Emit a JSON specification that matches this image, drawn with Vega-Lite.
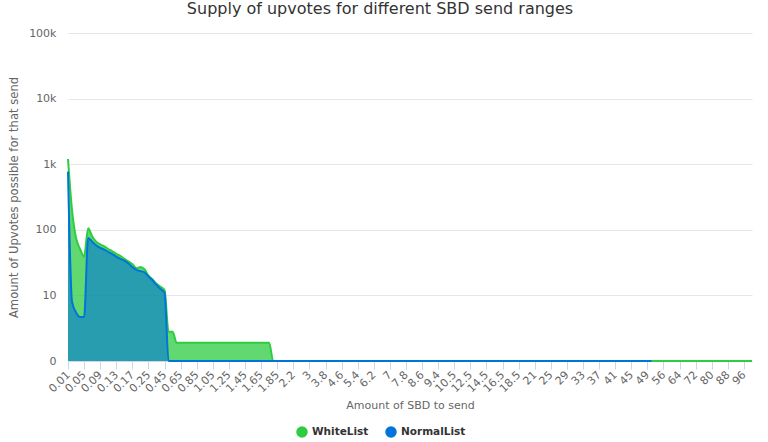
{
  "$schema": "https://vega.github.io/schema/vega-lite/v6.json",
  "autosize": "none",
  "width": 684,
  "height": 328,
  "padding": {"left": 68, "top": 33, "right": 16, "bottom": 81},
  "background": "white",
  "title": {
    "text": "Supply of upvotes for different SBD send ranges",
    "font": "DejaVu Sans",
    "fontSize": 16,
    "fontWeight": "normal",
    "color": "#333333",
    "anchor": "middle",
    "dx": -30,
    "offset": 10
  },
  "config": {
    "view": {"stroke": null},
    "font": "DejaVu Sans"
  },
  "data": {
    "values": [
      {"x": "0.01", "w": 1200, "n": 770},
      {"x": "0.02", "w": 200, "n": 8},
      {"x": "0.03", "w": 75, "n": 5.5},
      {"x": "0.04", "w": 51, "n": 4.7},
      {"x": "0.05", "w": 39, "n": 4.7},
      {"x": "0.06", "w": 106, "n": 75},
      {"x": "0.07", "w": 80, "n": 66},
      {"x": "0.08", "w": 66, "n": 58},
      {"x": "0.09", "w": 60, "n": 53},
      {"x": "0.1", "w": 56, "n": 50},
      {"x": "0.11", "w": 51, "n": 46},
      {"x": "0.12", "w": 47, "n": 42.5},
      {"x": "0.13", "w": 43, "n": 39},
      {"x": "0.14", "w": 40, "n": 36},
      {"x": "0.15", "w": 36, "n": 34},
      {"x": "0.16", "w": 33, "n": 31},
      {"x": "0.17", "w": 30, "n": 27},
      {"x": "0.18", "w": 26, "n": 24.5},
      {"x": "0.19", "w": 27, "n": 23.5},
      {"x": "0.2", "w": 25, "n": 22.5},
      {"x": "0.25", "w": 20, "n": 19.5},
      {"x": "0.3", "w": 17.5, "n": 17},
      {"x": "0.35", "w": 15, "n": 14.5},
      {"x": "0.4", "w": 13.5, "n": 12.5},
      {"x": "0.45", "w": 12, "n": 11},
      {"x": "0.5", "w": 2.8, "n": 1},
      {"x": "0.55", "w": 2.8, "n": 1},
      {"x": "0.6", "w": 1.9, "n": 1},
      {"x": "0.65", "w": 1.9, "n": 1},
      {"x": "0.7", "w": 1.9, "n": 1},
      {"x": "0.75", "w": 1.9, "n": 1},
      {"x": "0.8", "w": 1.9, "n": 1},
      {"x": "0.85", "w": 1.9, "n": 1},
      {"x": "0.9", "w": 1.9, "n": 1},
      {"x": "0.95", "w": 1.9, "n": 1},
      {"x": "1", "w": 1.9, "n": 1},
      {"x": "1.05", "w": 1.9, "n": 1},
      {"x": "1.1", "w": 1.9, "n": 1},
      {"x": "1.15", "w": 1.9, "n": 1},
      {"x": "1.2", "w": 1.9, "n": 1},
      {"x": "1.25", "w": 1.9, "n": 1},
      {"x": "1.3", "w": 1.9, "n": 1},
      {"x": "1.35", "w": 1.9, "n": 1},
      {"x": "1.4", "w": 1.9, "n": 1},
      {"x": "1.45", "w": 1.9, "n": 1},
      {"x": "1.5", "w": 1.9, "n": 1},
      {"x": "1.55", "w": 1.9, "n": 1},
      {"x": "1.6", "w": 1.9, "n": 1},
      {"x": "1.65", "w": 1.9, "n": 1},
      {"x": "1.7", "w": 1.9, "n": 1},
      {"x": "1.75", "w": 1.9, "n": 1},
      {"x": "1.8", "w": 1, "n": 1},
      {"x": "1.85", "w": 1, "n": 1},
      {"x": "1.9", "w": 1, "n": 1},
      {"x": "1.95", "w": 1, "n": 1},
      {"x": "2", "w": 1, "n": 1},
      {"x": "2.2", "w": 1, "n": 1},
      {"x": "2.4", "w": 1, "n": 1},
      {"x": "2.6", "w": 1, "n": 1},
      {"x": "2.8", "w": 1, "n": 1},
      {"x": "3", "w": 1, "n": 1},
      {"x": "3.2", "w": 1, "n": 1},
      {"x": "3.4", "w": 1, "n": 1},
      {"x": "3.6", "w": 1, "n": 1},
      {"x": "3.8", "w": 1, "n": 1},
      {"x": "4", "w": 1, "n": 1},
      {"x": "4.2", "w": 1, "n": 1},
      {"x": "4.4", "w": 1, "n": 1},
      {"x": "4.6", "w": 1, "n": 1},
      {"x": "4.8", "w": 1, "n": 1},
      {"x": "5", "w": 1, "n": 1},
      {"x": "5.2", "w": 1, "n": 1},
      {"x": "5.4", "w": 1, "n": 1},
      {"x": "5.6", "w": 1, "n": 1},
      {"x": "5.8", "w": 1, "n": 1},
      {"x": "6", "w": 1, "n": 1},
      {"x": "6.2", "w": 1, "n": 1},
      {"x": "6.4", "w": 1, "n": 1},
      {"x": "6.6", "w": 1, "n": 1},
      {"x": "6.8", "w": 1, "n": 1},
      {"x": "7", "w": 1, "n": 1},
      {"x": "7.2", "w": 1, "n": 1},
      {"x": "7.4", "w": 1, "n": 1},
      {"x": "7.6", "w": 1, "n": 1},
      {"x": "7.8", "w": 1, "n": 1},
      {"x": "8", "w": 1, "n": 1},
      {"x": "8.2", "w": 1, "n": 1},
      {"x": "8.4", "w": 1, "n": 1},
      {"x": "8.6", "w": 1, "n": 1},
      {"x": "8.8", "w": 1, "n": 1},
      {"x": "9", "w": 1, "n": 1},
      {"x": "9.2", "w": 1, "n": 1},
      {"x": "9.4", "w": 1, "n": 1},
      {"x": "9.6", "w": 1, "n": 1},
      {"x": "9.8", "w": 1, "n": 1},
      {"x": "10", "w": 1, "n": 1},
      {"x": "10.5", "w": 1, "n": 1},
      {"x": "11", "w": 1, "n": 1},
      {"x": "11.5", "w": 1, "n": 1},
      {"x": "12", "w": 1, "n": 1},
      {"x": "12.5", "w": 1, "n": 1},
      {"x": "13", "w": 1, "n": 1},
      {"x": "13.5", "w": 1, "n": 1},
      {"x": "14", "w": 1, "n": 1},
      {"x": "14.5", "w": 1, "n": 1},
      {"x": "15", "w": 1, "n": 1},
      {"x": "15.5", "w": 1, "n": 1},
      {"x": "16", "w": 1, "n": 1},
      {"x": "16.5", "w": 1, "n": 1},
      {"x": "17", "w": 1, "n": 1},
      {"x": "17.5", "w": 1, "n": 1},
      {"x": "18", "w": 1, "n": 1},
      {"x": "18.5", "w": 1, "n": 1},
      {"x": "19", "w": 1, "n": 1},
      {"x": "19.5", "w": 1, "n": 1},
      {"x": "20", "w": 1, "n": 1},
      {"x": "21", "w": 1, "n": 1},
      {"x": "22", "w": 1, "n": 1},
      {"x": "23", "w": 1, "n": 1},
      {"x": "24", "w": 1, "n": 1},
      {"x": "25", "w": 1, "n": 1},
      {"x": "26", "w": 1, "n": 1},
      {"x": "27", "w": 1, "n": 1},
      {"x": "28", "w": 1, "n": 1},
      {"x": "29", "w": 1, "n": 1},
      {"x": "30", "w": 1, "n": 1},
      {"x": "31", "w": 1, "n": 1},
      {"x": "32", "w": 1, "n": 1},
      {"x": "33", "w": 1, "n": 1},
      {"x": "34", "w": 1, "n": 1},
      {"x": "35", "w": 1, "n": 1},
      {"x": "36", "w": 1, "n": 1},
      {"x": "37", "w": 1, "n": 1},
      {"x": "38", "w": 1, "n": 1},
      {"x": "39", "w": 1, "n": 1},
      {"x": "40", "w": 1, "n": 1},
      {"x": "41", "w": 1, "n": 1},
      {"x": "42", "w": 1, "n": 1},
      {"x": "43", "w": 1, "n": 1},
      {"x": "44", "w": 1, "n": 1},
      {"x": "45", "w": 1, "n": 1},
      {"x": "46", "w": 1, "n": 1},
      {"x": "47", "w": 1, "n": 1},
      {"x": "48", "w": 1, "n": 1},
      {"x": "49", "w": 1, "n": 1},
      {"x": "50", "w": 1, "n": 1},
      {"x": "52", "w": 1},
      {"x": "54", "w": 1},
      {"x": "56", "w": 1},
      {"x": "58", "w": 1},
      {"x": "60", "w": 1},
      {"x": "62", "w": 1},
      {"x": "64", "w": 1},
      {"x": "66", "w": 1},
      {"x": "68", "w": 1},
      {"x": "70", "w": 1},
      {"x": "72", "w": 1},
      {"x": "74", "w": 1},
      {"x": "76", "w": 1},
      {"x": "78", "w": 1},
      {"x": "80", "w": 1},
      {"x": "82", "w": 1},
      {"x": "84", "w": 1},
      {"x": "86", "w": 1},
      {"x": "88", "w": 1},
      {"x": "90", "w": 1},
      {"x": "92", "w": 1},
      {"x": "94", "w": 1},
      {"x": "96", "w": 1},
      {"x": "98", "w": 1},
      {"x": "100", "w": 1}
    ]
  },
  "encoding": {
    "x": {
      "field": "x",
      "type": "ordinal",
      "sort": null,
      "scale": {"type": "point", "padding": 0},
      "axis": {
        "title": "Amount of SBD to send",
        "values": ["0.01","0.05","0.09","0.13","0.17","0.25","0.45","0.65","0.85","1.05","1.25","1.45","1.65","1.85","2.2","3","3.8","4.6","5.4","6.2","7","7.8","8.6","9.4","10.5","12.5","14.5","16.5","18.5","21","25","29","33","37","41","45","49","56","64","72","80","88","96"],
        "labelAngle": -45,
        "labelAlign": "right",
        "labelBaseline": "middle",
        "labelFontSize": 11,
        "labelColor": "#666666",
        "labelOverlap": false,
        "labelPadding": 4,
        "labelFont": "DejaVu Sans",
        "tickColor": "#ccd6eb",
        "tickSize": 8,
        "domainColor": "#ccd6eb",
        "grid": false,
        "titleFont": "DejaVu Sans",
        "titleFontSize": 11,
        "titleFontWeight": "normal",
        "titleColor": "#666666",
        "titleBaseline": "middle",
        "titleY": 44
      }
    },
    "y": {
      "type": "quantitative",
      "scale": {"type": "log", "domain": [1, 100000], "nice": false},
      "axis": {
        "title": "Amount of Upvotes possible for that send",
        "values": [1, 10, 100, 1000, 10000, 100000],
        "labelExpr": "datum.value == 1 ? '0' : datum.value >= 1000 ? (datum.value / 1000) + 'k' : '' + datum.value",
        "labelFontSize": 11,
        "labelColor": "#666666",
        "labelPadding": 12,
        "labelFont": "DejaVu Sans",
        "ticks": false,
        "domain": false,
        "gridColor": "#e6e6e6",
        "titleFont": "DejaVu Sans",
        "titleFontSize": 11.6,
        "titleFontWeight": "normal",
        "titleColor": "#666666",
        "titlePadding": 9
      }
    }
  },
  "layer": [
    {
      "mark": {"type": "area", "interpolate": "monotone", "fillOpacity": 0.75},
      "encoding": {
        "y": {"field": "w", "type": "quantitative"},
        "y2": {"datum": 1},
        "color": {
          "datum": "WhiteList",
          "type": "nominal",
          "scale": {"domain": ["WhiteList", "NormalList"], "range": ["#2ECC40", "#0074D9"]},
          "legend": {
            "title": null,
            "orient": "none",
            "direction": "horizontal",
            "legendX": 228,
            "legendY": 393,
            "symbolType": "circle",
            "symbolSize": 100,
            "symbolOpacity": 1,
            "labelFont": "DejaVu Sans",
            "labelFontSize": 10.5,
            "labelFontWeight": "bold",
            "labelColor": "#333333",
            "columnPadding": 14
          }
        }
      }
    },
    {
      "mark": {"type": "line", "interpolate": "monotone", "strokeWidth": 2},
      "encoding": {
        "y": {"field": "w", "type": "quantitative"},
        "color": {"datum": "WhiteList", "type": "nominal"}
      }
    },
    {
      "mark": {"type": "area", "interpolate": "monotone", "fillOpacity": 0.6},
      "encoding": {
        "y": {"field": "n", "type": "quantitative"},
        "y2": {"datum": 1},
        "color": {"datum": "NormalList", "type": "nominal"}
      }
    },
    {
      "mark": {"type": "line", "interpolate": "monotone", "strokeWidth": 2},
      "encoding": {
        "y": {"field": "n", "type": "quantitative"},
        "color": {"datum": "NormalList", "type": "nominal"}
      }
    }
  ]
}
